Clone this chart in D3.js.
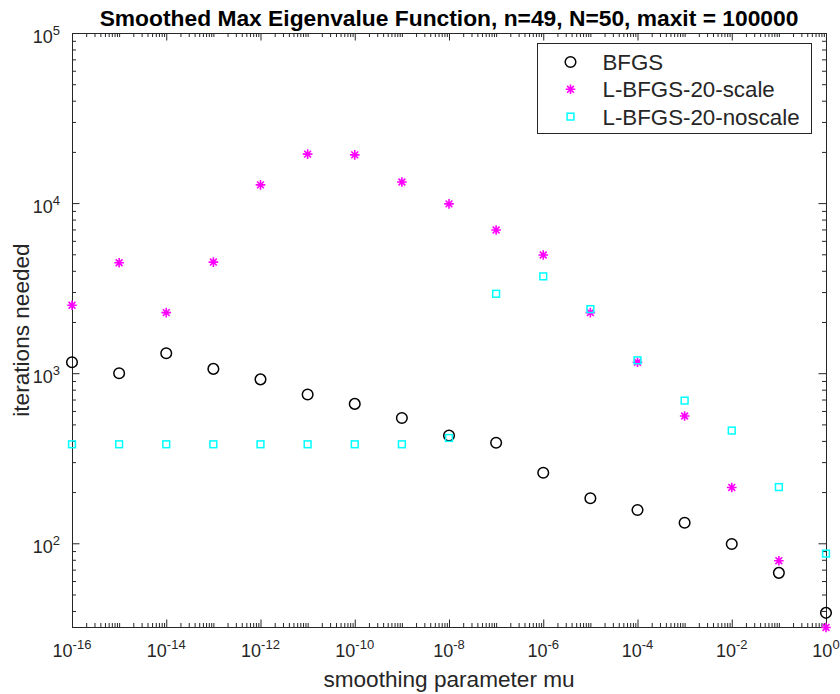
<!DOCTYPE html>
<html>
<head>
<meta charset="utf-8">
<script src="https://cdn.jsdelivr.net/npm/d3@7/dist/d3.min.js"></script>
<style>
  body { margin: 0; background: #fff; }
  text { font-family: "Liberation Sans", Arial, Helvetica, sans-serif; fill: #262626; }
</style>
</head>
<body>
<div class="chart"></div>
<script>
// smoothing parameter values (x) and iteration counts
const mu = [1e-16, 1e-15, 1e-14, 1e-13, 1e-12, 1e-11, 1e-10, 1e-9, 1e-8,
            1e-7, 1e-6, 1e-5, 1e-4, 1e-3, 1e-2, 1e-1, 1];
const bfgs = [1160, 1000, 1310, 1060, 920, 750, 660, 545, 430,
              390, 260, 184, 157, 132, 99, 67, 39];
const lbfgsScale = [2510, 4460, 2270, 4500, 12800, 19400, 19200, 13300, 9900,
                    6950, 4950, 2270, 1160, 560, 213, 79, 32];
const lbfgsNoscale = [382, 382, 382, 382, 382, 382, 382, 382, 416,
                      2930, 3710, 2380, 1190, 690, 460, 214, 87];

const seriesNames = ["BFGS", "L-BFGS-20-scale", "L-BFGS-20-noscale"];
const xTickExps = [-16, -14, -12, -10, -8, -6, -4, -2, 0];
const yTickExps = [2, 3, 4, 5];

var margin = {top: 33, right: 14, bottom: 67, left: 72};
var width = 840 - margin.left - margin.right,
    height = 694 - margin.top - margin.bottom;

const svg = d3.select(".chart").append("svg")
    .attr("width", 840)
    .attr("height", 694);

const g = svg.append("g")
    .attr("transform", "translate(" + margin.left + "," + margin.top + ")");

const xScale = d3.scaleLog().domain([1e-16, 1]).range([0, width]);
const yScale = d3.scaleLog().domain([32.2, 1e5]).range([height, 0]);

// tick positions: majors at labelled decades, minors at 2..9 and unlabelled decades
const xMajor = xTickExps.map(e => Math.pow(10, e));
const xMinor = [];
for (let e = -16; e < 0; e++) {
    for (let m = 1; m < 10; m++) {
        if (m === 1 && e % 2 === 0) continue;
        xMinor.push(m * Math.pow(10, e));
    }
}
const yMajor = yTickExps.map(e => Math.pow(10, e));
const yMinor = [];
for (let e = 1; e < 5; e++) {
    for (let m = 2; m < 10; m++) {
        const v = m * Math.pow(10, e);
        if (v >= 32.2) yMinor.push(v);
    }
}

function drawAxis(axis, tx, ty) {
    const a = g.append("g")
        .attr("transform", `translate(${tx}, ${ty})`)
        .call(axis);
    a.select(".domain").remove();
    a.selectAll(".tick line").attr("stroke", "#262626");
}

const tMaj = -7.5, tMin = -4;
drawAxis(d3.axisBottom(xScale).tickValues(xMinor).tickSize(tMin).tickFormat(""), 0, height);
drawAxis(d3.axisBottom(xScale).tickValues(xMajor).tickSize(tMaj).tickFormat(""), 0, height);
drawAxis(d3.axisTop(xScale).tickValues(xMinor).tickSize(tMin).tickFormat(""), 0, 0);
drawAxis(d3.axisTop(xScale).tickValues(xMajor).tickSize(tMaj).tickFormat(""), 0, 0);
drawAxis(d3.axisLeft(yScale).tickValues(yMinor).tickSize(tMin).tickFormat(""), 0, 0);
drawAxis(d3.axisLeft(yScale).tickValues(yMajor).tickSize(tMaj).tickFormat(""), 0, 0);
drawAxis(d3.axisRight(yScale).tickValues(yMinor).tickSize(tMin).tickFormat(""), width, 0);
drawAxis(d3.axisRight(yScale).tickValues(yMajor).tickSize(tMaj).tickFormat(""), width, 0);

// plot box
g.append("rect")
    .attr("x", 0.5).attr("y", 0.5)
    .attr("width", width).attr("height", height)
    .attr("fill", "none")
    .attr("stroke", "#262626")
    .attr("stroke-width", 1);

// tick labels as 10^k
const xLbl = g.selectAll(".xlbl")
    .data(xTickExps)
    .enter().append("text")
    .attr("class", "xlbl")
    .attr("x", d => xScale(Math.pow(10, d)))
    .attr("y", height + 30)
    .attr("text-anchor", "middle")
    .style("font-size", "18px");
xLbl.append("tspan").text("10");
xLbl.append("tspan").attr("dy", -8).style("font-size", "13px").text(d => d);

const yLbl = g.selectAll(".ylbl")
    .data(yTickExps)
    .enter().append("text")
    .attr("class", "ylbl")
    .attr("x", -12)
    .attr("y", d => yScale(Math.pow(10, d)) + 10)
    .attr("text-anchor", "end")
    .style("font-size", "18px");
yLbl.append("tspan").text("10");
yLbl.append("tspan").attr("dy", -8).style("font-size", "13px").text(d => d);

// markers
const starPath = function(r) {
    const q = r * Math.SQRT1_2;
    return `M${-r},0L${r},0M0,${-r}L0,${r}M${-q},${-q}L${q},${q}M${-q},${q}L${q},${-q}`;
};

function drawCircle(sel) {
    sel.append("circle").attr("r", 5.3)
        .attr("fill", "none").attr("stroke", "#000").attr("stroke-width", 1.5);
}
function drawStar(sel) {
    sel.append("path").attr("d", starPath(4.8))
        .attr("fill", "none").attr("stroke", "#ff00ff").attr("stroke-width", 1.6);
}
function drawSquare(sel) {
    sel.append("rect").attr("x", -3.4).attr("y", -3.4)
        .attr("width", 6.8).attr("height", 6.8)
        .attr("fill", "none").attr("stroke", "#00ffff").attr("stroke-width", 1.5);
}
const drawers = [drawCircle, drawStar, drawSquare];

[bfgs, lbfgsScale, lbfgsNoscale].forEach(function(vals, i) {
    const pts = g.append("g").selectAll("g")
        .data(vals)
        .enter().append("g")
        .attr("transform", (d, j) => `translate(${xScale(mu[j])}, ${yScale(d)})`);
    drawers[i](pts);
});

// title and axis labels
svg.append("text")
    .attr("x", margin.left + width / 2)
    .attr("y", 26)
    .attr("text-anchor", "middle")
    .style("font-size", "22.8px")
    .style("font-weight", "bold")
    .style("fill", "#000")
    .text("Smoothed Max Eigenvalue Function, n=49, N=50, maxit = 100000");

svg.append("text")
    .attr("x", margin.left + width / 2)
    .attr("y", 686.5)
    .attr("text-anchor", "middle")
    .style("font-size", "22.6px")
    .text("smoothing parameter mu");

svg.append("text")
    .attr("transform", `translate(29, ${margin.top + height / 2}) rotate(-90)`)
    .attr("text-anchor", "middle")
    .style("font-size", "22.6px")
    .text("iterations needed");

// legend
const legend = svg.append("g").attr("transform", "translate(537.5, 43.5)");
legend.append("rect")
    .attr("width", 274).attr("height", 90)
    .attr("fill", "#fff")
    .attr("stroke", "#262626")
    .attr("stroke-width", 1);
const rows = legend.selectAll(".row")
    .data(seriesNames)
    .enter().append("g")
    .attr("class", "row")
    .attr("transform", (d, i) => `translate(0, ${18.5 + i * 27.3})`);
rows.each(function(d, i) {
    const m = d3.select(this).append("g").attr("transform", "translate(33, 0)");
    drawers[i](m);
});
rows.append("text")
    .attr("x", 65)
    .attr("y", 8)
    .style("font-size", "22.3px")
    .text(d => d);
</script>
</body>
</html>
